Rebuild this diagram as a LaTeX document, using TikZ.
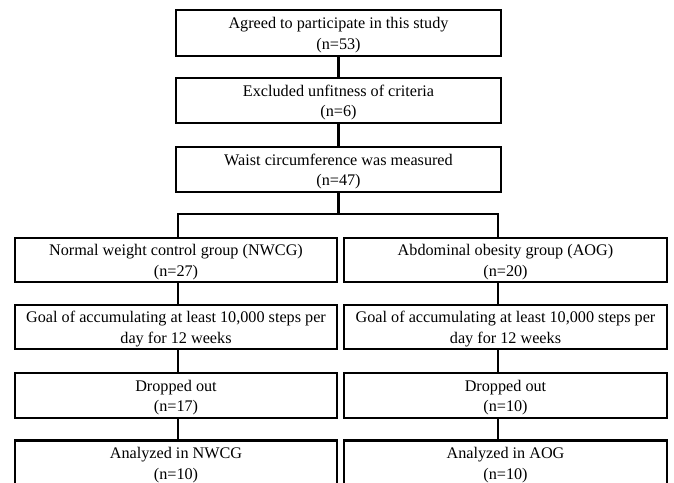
\documentclass[tikz,border=0pt]{standalone}
\usepackage{fontspec}
\setmainfont{Liberation Serif}
\newcommand\lowstrut{\rule{0pt}{15.5pt}}
\begin{document}
\begin{tikzpicture}[x=1pt,y=-1pt,
  flowbox/.style={draw=black, line width=2.8pt, fill=white, align=center,
    inner sep=0pt, font=\fontsize{16.2}{20.5}\selectfont},
  conn/.style={draw=black, line width=2.8pt}]
\clip (0,0) rectangle (674,482);
\fill[white] (0,0) rectangle (674,482);
% top column
\node[flowbox, minimum width=325pt, minimum height=46pt] (b1) at (338.5,33) {\lowstrut Agreed to participate in this study\\(n=53)};
\node[flowbox, minimum width=325pt, minimum height=45pt] (b2) at (338.5,100.5) {\lowstrut Excluded unfitness of criteria\\(n=6)};
\node[flowbox, minimum width=325pt, minimum height=45pt] (b3) at (338.5,169.5) {\lowstrut Waist circumference was measured\\(n=47)};
% left column
\node[flowbox, minimum width=322pt, minimum height=44pt] (l4) at (176,260) {\lowstrut Normal weight control group (NWCG)\\(n=27)};
\node[flowbox, minimum width=322pt, minimum height=44pt] (l5) at (176,327) {\lowstrut Goal of accumulating at least 10,000 steps per\\day for 12 weeks};
\node[flowbox, minimum width=322pt, minimum height=45pt] (l6) at (176,395.5) {\lowstrut Dropped out\\(n=17)};
\node[flowbox, minimum width=322pt, minimum height=45pt] (l7) at (176,463) {\lowstrut Analyzed in NWCG\\(n=10)};
% right column
\node[flowbox, minimum width=323pt, minimum height=44pt] (r4) at (505.5,260) {\lowstrut Abdominal obesity group (AOG)\\(n=20)};
\node[flowbox, minimum width=323pt, minimum height=44pt] (r5) at (505.5,327) {\lowstrut Goal of accumulating at least 10,000 steps per\\day for 12 weeks};
\node[flowbox, minimum width=323pt, minimum height=45pt] (r6) at (505.5,395.5) {\lowstrut Dropped out\\(n=10)};
\node[flowbox, minimum width=323pt, minimum height=45pt] (r7) at (505.5,463) {\lowstrut Analyzed in AOG\\(n=10)};
% connector helpers
\coordinate (colL) at (178,0);
\coordinate (colR) at (498,0);
\coordinate (split) at (338.5,214);
% connectors
\draw[conn] (b1.south) -- (b2.north);
\draw[conn] (b2.south) -- (b3.north);
\draw[conn] (b3.south) -- (split);
\draw[conn] (colL |- l4.north) |- (split) -| (colR |- r4.north);
\draw[conn] (colL |- l4.south) -- (colL |- l5.north);
\draw[conn] (colL |- l5.south) -- (colL |- l6.north);
\draw[conn] (colL |- l6.south) -- (colL |- l7.north);
\draw[conn] (colR |- r4.south) -- (colR |- r5.north);
\draw[conn] (colR |- r5.south) -- (colR |- r6.north);
\draw[conn] (colR |- r6.south) -- (colR |- r7.north);
\end{tikzpicture}
\end{document}
